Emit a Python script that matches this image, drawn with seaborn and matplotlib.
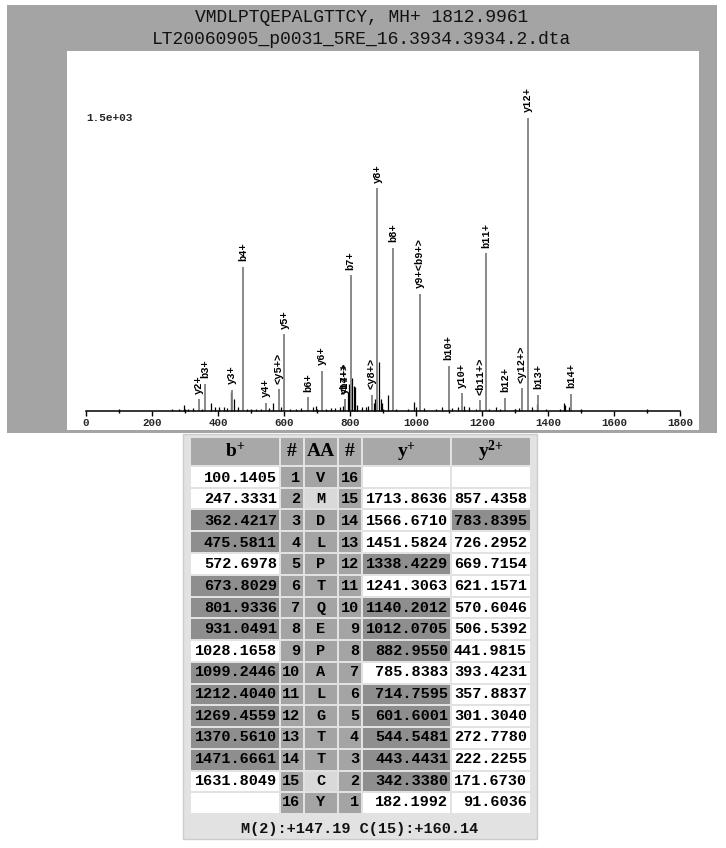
import numpy as np
import pandas as pd
import matplotlib
matplotlib.use("Agg")
import matplotlib.pyplot as plt
import seaborn as sns
from matplotlib.colors import ListedColormap
from matplotlib.patches import Rectangle

W, H = 726, 848

# ---------------- spectrum data ----------------
title_seq = "VMDLPTQEPALGTTCY, MH+ 1812.9961"
title_file = "LT20060905_p0031_5RE_16.3934.3934.2.dta"
max_label = "1.5e+03"

peak_labels = ["y2+", "b3+", "y3+", "b4+", "y4+", "<y5+>", "y5+", "b6+", "y6+",
               "<b7+>", "y14++", "b7+", "<y8+>", "y8+", "b8+", "y9+<b9+>", "b10+",
               "y10+", "<b11+>", "b11+", "b12+", "<y12+>", "y12+", "b13+", "b14+"]
peak_mz = [342, 362, 443, 476, 545, 584, 601, 674, 715,
           784, 784, 802, 866, 883, 931, 1012, 1099,
           1140, 1194, 1212, 1269, 1320, 1338, 1370, 1471]
peak_int = [60, 138, 108, 737, 43, 111, 393, 70, 207,
            60, 60, 695, 82, 1141, 837, 600, 232,
            91, 56, 808, 68, 116, 1500, 82, 87]

# unlabelled peaks
other_mz = [262, 283, 297, 310, 325, 350, 378, 392, 402, 418, 428, 440, 447, 462,
            488, 515, 530, 556, 566, 590, 618, 635, 650, 688, 697, 726, 742, 755,
            770, 779, 795, 798, 807, 811, 814, 822, 835, 848, 856, 872, 877, 889,
            894, 898, 914, 940, 975, 995, 1000, 1025, 1060, 1080, 1110, 1128, 1146,
            1160, 1183, 1222, 1242, 1256, 1300, 1313, 1351, 1366, 1395, 1436, 1450,
            1453, 1465, 1500]
other_int = [8, 10, 31, 12, 15, 12, 43, 18, 22, 20, 14, 95, 60, 18,
             10, 8, 12, 15, 40, 20, 10, 12, 15, 18, 26, 12, 15, 14,
             20, 28, 92, 140, 170, 130, 123, 30, 18, 22, 28, 40, 60, 250,
             60, 40, 82, 12, 10, 46, 20, 14, 8, 18, 15, 20, 26,
             22, 10, 12, 18, 10, 8, 15, 22, 35, 8, 12, 40,
             30, 20, 5]

# ---------------- table data ----------------
b_ions = [100.1405, 247.3331, 362.4217, 475.5811, 572.6978, 673.8029, 801.9336,
          931.0491, 1028.1658, 1099.2446, 1212.4040, 1269.4559, 1370.5610,
          1471.6661, 1631.8049, None]
residues = list("VMDLPTQEPALGTTCY")
y_ions = [None, 1713.8636, 1566.6710, 1451.5824, 1338.4229, 1241.3063, 1140.2012,
          1012.0705, 882.9550, 785.8383, 714.7595, 601.6001, 544.5481, 443.4431,
          342.3380, 182.1992]
y2_ions = [None, 857.4358, 783.8395, 726.2952, 669.7154, 621.1571, 570.6046,
           506.5392, 441.9815, 393.4231, 357.8837, 301.3040, 272.7780, 222.2255,
           171.6730, 91.6036]
b_hit = [0, 0, 1, 1, 0, 1, 1, 1, 0, 1, 1, 1, 1, 1, 0, 0]
y_hit = [0, 0, 0, 0, 1, 0, 1, 1, 1, 0, 1, 1, 1, 1, 1, 0]
y2_hit = [0, 0, 1, 0, 0, 0, 0, 0, 0, 0, 0, 0, 0, 0, 0, 0]
modified = [0, 1, 0, 0, 0, 0, 0, 0, 0, 0, 0, 0, 0, 0, 1, 0]
footer = "M(2):+147.19 C(15):+160.14"

# ---------------- style ----------------
sns.set_theme(style="white")
plt.rcParams["font.family"] = ["Liberation Mono", "DejaVu Sans"]
plt.rcParams["mathtext.fontset"] = "custom"
plt.rcParams["mathtext.bf"] = "Liberation Serif:bold"
plt.rcParams["mathtext.rm"] = "Liberation Serif"

PANEL = "#a4a4a4"
TABLE_BG = "#e2e2e2"
HEAD = "#a8a8a8"


def fx(px):
    return px / W


def fy(py):
    return 1 - py / H


fig = plt.figure(figsize=(W / 100, H / 100), dpi=100)
fig.patch.set_facecolor("white")

# gray panel behind spectrum
fig.patches.append(Rectangle((fx(7), fy(433)), 710 / W, 428 / H, transform=fig.transFigure,
                             facecolor=PANEL, edgecolor="none", zorder=-2))
fig.text(fx(362), fy(18), title_seq, ha="center", va="center", fontsize=13, color="#111111")
fig.text(fx(362), fy(39), title_file, ha="center", va="center", fontsize=13, color="#111111")

# ---------------- spectrum ----------------
ax = fig.add_axes([fx(67), fy(430), 632 / W, 379 / H])
ax.set_facecolor("white")
ax.vlines(other_mz, 0, other_int, color="black", lw=0.9)
ax.vlines(peak_mz, 0, peak_int, color="#808080", lw=1.3)
for m, i, lab in zip(peak_mz, peak_int, peak_labels):
    ax.annotate(lab, (m, i), xytext=(0, 4), textcoords="offset points", rotation=90,
                ha="center", va="bottom", fontsize=7.5, fontweight="bold", color="black")
ax.text(0, 1500, max_label, ha="left", va="center", fontsize=8, fontweight="bold")

ax.set_xlim(-57.6, 1857.6)
ax.set_ylim(-97.3, 1843)
for s in ["top", "right", "left"]:
    ax.spines[s].set_visible(False)
ax.spines["bottom"].set_position(("data", 0))
ax.spines["bottom"].set_bounds(0, 1800)
ax.spines["bottom"].set_linewidth(1.1)
ax.spines["bottom"].set_color("black")
ax.set_yticks([])
ax.set_xticks(range(0, 1801, 200))
ax.set_xticks(range(100, 1800, 200), minor=True)
ax.tick_params(axis="x", which="major", direction="out", length=3.5, width=1,
               pad=1.5, labelsize=7.8, bottom=True, color="black")
ax.tick_params(axis="x", which="minor", direction="inout", length=2.5, width=1,
               bottom=True, color="black")
plt.setp(ax.get_xticklabels(), fontweight="bold")

# ---------------- fragment table ----------------
fig.patches.append(Rectangle((fx(183), fy(839)), 354 / W, 405 / H, transform=fig.transFigure,
                             facecolor=TABLE_BG, edgecolor="#cccccc", lw=1, zorder=-2))

col_x = [(191, 279), (281, 303), (305, 337), (339, 361), (363, 450), (452, 530)]
body_top, body_bot = 467, 813
head_top, head_bot = 438, 465
row_h = (body_bot - body_top) / 16

codes = [
    b_hit,
    [2] * 16,
    [3 if m else 2 for m in modified],
    [2] * 16,
    y_hit,
    y2_hit,
]
cmap = ListedColormap(["#ffffff", "#8e8e8e", "#a4a4a4", "#d9d9d9"])

for (l, r), c in zip(col_x, codes):
    cax = fig.add_axes([fx(l - 1), fy(body_bot + 1), (r - l + 2) / W, (body_bot - body_top + 2) / H])
    sns.heatmap(np.array(c).reshape(-1, 1), ax=cax, cmap=cmap, vmin=-0.5, vmax=3.5,
                cbar=False, linewidths=1.4, linecolor=TABLE_BG,
                xticklabels=False, yticklabels=False)
    fig.patches.append(Rectangle((fx(l), fy(head_bot)), (r - l) / W, (head_bot - head_top) / H,
                                 transform=fig.transFigure, facecolor=HEAD, edgecolor="none"))

headers = [r"$\mathbf{b^{+}}$", "#", "AA", "#", r"$\mathbf{y^{+}}$", r"$\mathbf{y^{2{+}}}$"]
head_y = (head_top + head_bot) / 2
for (l, r), h in zip(col_x, headers):
    fig.text(fx((l + r) / 2), fy(head_y), h, ha="center", va="center", fontsize=14,
             fontweight="bold", family="Liberation Serif", color="black")

for i in range(16):
    yc = fy(body_top + (i + 0.5) * row_h)
    kw = dict(va="center", fontsize=11, fontweight="bold", color="black")
    if b_ions[i] is not None:
        fig.text(fx(277), yc, f"{b_ions[i]:.4f}", ha="right", **kw)
    fig.text(fx(300.5), yc, str(i + 1), ha="right", **kw)
    fig.text(fx(321), yc, residues[i], ha="center", **kw)
    fig.text(fx(359), yc, str(16 - i), ha="right", **kw)
    if y_ions[i] is not None:
        fig.text(fx(448), yc, f"{y_ions[i]:.4f}", ha="right", **kw)
    if y2_ions[i] is not None:
        fig.text(fx(527), yc, f"{y2_ions[i]:.4f}", ha="right", **kw)

fig.text(fx(360), fy(829), footer, ha="center", va="center", fontsize=11,
         fontweight="bold", color="#111111")

fig.savefig("out.png", dpi=100)
